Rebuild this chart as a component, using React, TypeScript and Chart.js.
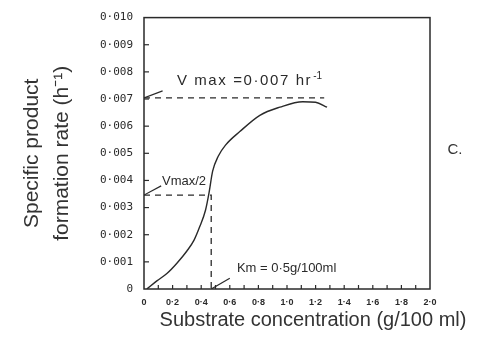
import React, { useEffect, useRef } from "react";
import { Chart, registerables } from "chart.js";

Chart.register(...registerables);

// Curve: specific product formation rate vs substrate concentration
const curveX = [0.02, 0.09, 0.16, 0.23, 0.3, 0.35, 0.39, 0.43, 0.455, 0.48, 0.52, 0.57, 0.67, 0.81, 0.95, 1.11, 1.2, 1.28];
const curveY = [0, 0.0003, 0.00057, 0.00095, 0.0014, 0.0018, 0.0023, 0.0029, 0.00355, 0.00434, 0.0049, 0.0053, 0.0058, 0.0064, 0.0067, 0.0069, 0.00688, 0.0067];

const vmax = 0.00704;
const vmaxLineEnd = 1.26;
const halfVmax = 0.00346;
const km = 0.47;

const xTickValues = [0, 0.2, 0.4, 0.6, 0.8, 1.0, 1.2, 1.4, 1.6, 1.8, 2.0];
const yTickValues = [0, 0.001, 0.002, 0.003, 0.004, 0.005, 0.006, 0.007, 0.008, 0.009, 0.01];

const labelVmax = "V max =0·007 hr";
const labelVmaxSup = "-1";
const labelHalf = "Vmax/2";
const labelKm = "Km = 0·5g/100ml";
const xTitle = "Substrate concentration (g/100 ml)";
const yTitle = ["Specific product", "formation rate (h\u207B\u00B9)"];
const panelLabel = "C.";

const INK = "#2a2a2a";
const FONT = "'Liberation Sans', Arial, sans-serif";
const MONO = "'DejaVu Sans Mono', monospace";

export default function App() {
  const ref = useRef<HTMLCanvasElement | null>(null);

  useEffect(() => {
    if (!ref.current) return;
    const pts = curveX.map((x, i) => ({ x, y: curveY[i] }));

    const overlay = {
      id: "overlay",
      afterDatasetsDraw(chart: any) {
        const { ctx, chartArea: a, scales } = chart;
        const xs = scales.x, ys = scales.y;
        ctx.save();
        ctx.strokeStyle = INK;
        ctx.lineWidth = 1.5;
        ctx.strokeRect(a.left, a.top, a.right - a.left, a.bottom - a.top);
        ctx.lineWidth = 1.2;
        // inward ticks
        for (let i = 1; i < 10; i++) {
          const py = ys.getPixelForValue(i * 0.001);
          ctx.beginPath(); ctx.moveTo(a.left, py); ctx.lineTo(a.left + 5, py); ctx.stroke();
        }
        for (let i = 1; i < 20; i++) {
          const px = xs.getPixelForValue(i * 0.1);
          ctx.beginPath(); ctx.moveTo(px, a.bottom); ctx.lineTo(px, a.bottom - 4); ctx.stroke();
        }
        // text annotations
        ctx.fillStyle = INK;
        ctx.textBaseline = "middle";
        ctx.textAlign = "left";
        ctx.font = `15px ${FONT}`;
        (ctx as any).letterSpacing = "1.6px";
        const vx = xs.getPixelForValue(0.23), vy = ys.getPixelForValue(0.00767);
        ctx.fillText(labelVmax, vx, vy);
        const w = ctx.measureText(labelVmax).width;
        (ctx as any).letterSpacing = "0px";
        ctx.font = `10px ${FONT}`;
        ctx.fillText(labelVmaxSup, vx + w + 1, vy - 5);
        ctx.font = `13px ${FONT}`;
        ctx.fillText(labelHalf, xs.getPixelForValue(0.126), ys.getPixelForValue(0.00398));
        ctx.fillText(labelKm, xs.getPixelForValue(0.65), ys.getPixelForValue(0.00075));
        // x title
        ctx.font = `20px ${FONT}`;
        ctx.fillStyle = "#333";
        ctx.textAlign = "center";
        ctx.fillText(xTitle, 313, 320);
        ctx.font = `15px ${FONT}`;
        ctx.fillText(panelLabel, 455, 150);
        ctx.restore();
      },
    };

    const dashed = {
      borderColor: INK,
      borderWidth: 1.3,
      borderDash: [6, 5],
      pointRadius: 0,
      showLine: true,
      fill: false,
    };
    const leader = {
      borderColor: INK,
      borderWidth: 1.2,
      pointRadius: 0,
      showLine: true,
      fill: false,
    };

    const chart = new Chart(ref.current, {
      type: "scatter",
      data: {
        datasets: [
          {
            data: pts,
            borderColor: INK,
            borderWidth: 1.4,
            pointRadius: 0,
            showLine: true,
            cubicInterpolationMode: "monotone",
            fill: false,
          } as any,
          { ...dashed, data: [{ x: 0, y: vmax }, { x: vmaxLineEnd, y: vmax }] },
          { ...dashed, data: [{ x: 0, y: halfVmax }, { x: km, y: halfVmax }, { x: km, y: 0 }] },
          { ...leader, data: [{ x: 0, y: vmax }, { x: 0.13, y: 0.0073 }] },
          { ...leader, data: [{ x: 0, y: halfVmax }, { x: 0.12, y: 0.0038 }] },
          { ...leader, data: [{ x: km, y: 0 }, { x: 0.6, y: 0.0004 }] },
        ],
      },
      options: {
        animation: false,
        responsive: false,
        layout: { padding: { top: 10, right: 51, left: 0, bottom: 0 } },
        plugins: { legend: { display: false }, tooltip: { enabled: false } },
        scales: {
          x: {
            type: "linear",
            min: 0,
            max: 2,
            afterFit: (s: any) => { s.height = 69; },
            afterBuildTicks: (s: any) => { s.ticks = xTickValues.map((v) => ({ value: v })); },
            grid: { display: false, drawTicks: false },
            border: { display: false },
            ticks: {
              padding: 8,
              color: INK,
              font: { family: FONT, size: 9, weight: "bold" },
              maxRotation: 0,
              callback: (v: any) => (Number(v) === 0 ? "0" : Number(v).toFixed(1).replace(".", "·")),
            },
          },
          y: {
            type: "linear",
            min: 0,
            max: 0.01,
            afterFit: (s: any) => { s.width = 144; },
            afterBuildTicks: (s: any) => { s.ticks = yTickValues.map((v) => ({ value: v })); },
            grid: { display: false, drawTicks: false },
            border: { display: false },
            ticks: {
              padding: 11,
              color: INK,
              font: { family: MONO, size: 11 },
              callback: (v: any) => {
                const n = Math.round(Number(v) * 1000);
                return n === 0 ? "0" : "0·0" + String(n).padStart(2, "0");
              },
            },
            title: {
              display: true,
              text: yTitle,
              color: "#333",
              font: { family: FONT, size: 21, lineHeight: 1.45 },
              padding: { top: 17, bottom: 0 },
            },
          },
        },
      },
      plugins: [overlay],
    });
    return () => chart.destroy();
  }, []);

  return (
    <div style={{ position: "absolute", left: 0, top: 0, width: 481, height: 358, background: "#fff" }}>
      <canvas ref={ref} width={481} height={358} style={{ width: 481, height: 358 }} />
    </div>
  );
}
